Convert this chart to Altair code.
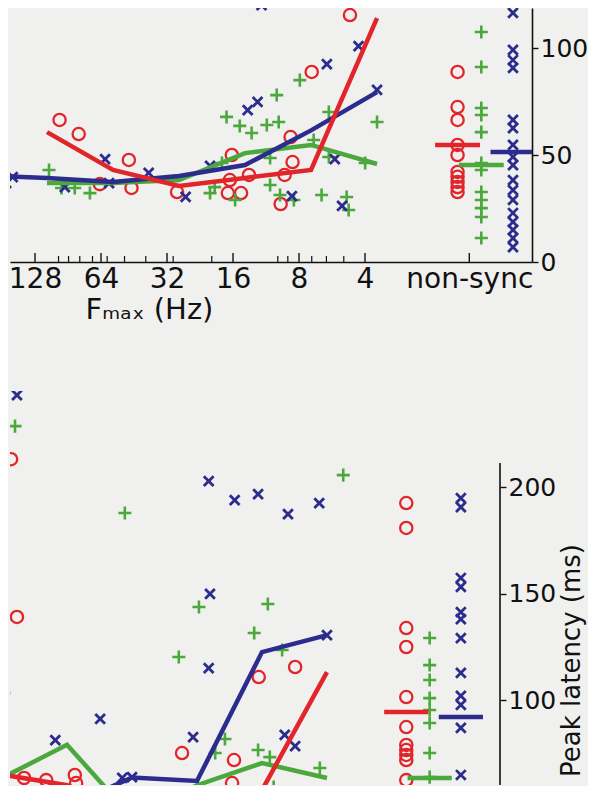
import math
import altair as alt
import pandas as pd

FONT = "DejaVu Sans"
RED, GREEN, BLUE = "#e1252a", "#4ba83d", "#2c2c8e"
BG = "#f0f0ee"
INK = "#111111"

# ---- x axis: Fmax on an octave (log2 Hz) position ----
FMAX_HZ = [4, 8, 16, 32, 64, 128]
MINOR_HZ = [5, 6, 7, 9, 10, 20, 30, 40, 50, 60, 70, 80, 90, 100, 200]
NONSYNC_POS = 0.42
NS_OFFSET = {"red": 0.36, "green": 0.0, "blue": -0.48}
NS_HALF = 0.34

# ---- top panel ----
TOP_LINE_HZ = [256, 128, 64, 32, 16, 8, 4]
TOP_LINE_RED = [None, 60.7, 43.0, 35.5, 39.3, 43.0, 114.0]
TOP_LINE_GREEN = [None, 36.9, 36.9, 38.3, 50.9, 54.7, 45.8]
TOP_LINE_BLUE = [40.5, 39.3, 37.4, 40.2, 45.3, 61.5, 79.4]
TOP_NS_MEAN = {"red": 54.7, "green": 45.3, "blue": 51.4}

TOP_RED_OCT = [6.81, 6.52, 5.76, 6.2, 5.72, 5.03, 4.2, 3.31, 3.28, 3.4, 4.26, 4.06, 3.46, 2.41, 2.99, 4.23, 3.94]
TOP_RED_LAT = [66.4, 59.8, 47.7, 36.4, 34.6, 32.7, 50.0, 58.4, 46.7, 40.7, 32.2, 32.2, 27.1, 115.4, 88.8, 38.3, 40.7]
TOP_BLUE_OCT = [3.75, 2.28, 2.76, 3.81, 3.96, 2.0, 2.64, 2.53, 3.29, 4.90, 6.12, 5.46, 6.73, 7.62, 7.52, 4.53, 6.06]
TOP_BLUE_LAT = [120.0, 100.9, 92.5, 74.8, 71.0, 80.4, 48.1, 26.2, 30.8, 30.4, 48.1, 41.6, 35.0, 36.9, 39.7, 44.9, 36.9]
TOP_GREEN_OCT = [3.17, 3.52, 4.28, 4.08, 3.90, 3.67, 3.49, 2.73, 2.0, 2.96, 2.18, 2.73, 3.62, 3.62, 3.47, 4.53, 4.46,
                 4.15, 3.26, 2.84, 2.46, 2.43, 4.35, 6.97, 6.78, 6.58, 6.35]
TOP_GREEN_LAT = [85.0, 78.0, 67.8, 63.6, 60.3, 64.0, 65.4, 70.1, 65.4, 57.0, 46.3, 49.1, 48.6, 36.0, 31.3, 32.2, 35.0,
                 29.0, 29.0, 31.3, 30.4, 24.3, 46.3, 43.0, 34.6, 34.6, 32.2]
TOP_NS_RED = [88.8, 72.4, 66.4, 54.7, 50.0, 42.1, 39.8, 37.4, 35.0, 32.7]
TOP_NS_GREEN = [107.5, 91.1, 72.0, 68.7, 60.7, 46.3, 43.0, 32.7, 29.0, 25.2, 21.0, 11.2]
TOP_NS_BLUE = [121.0, 116.4, 99.1, 94.4, 90.7, 66.4, 62.6, 54.7, 49.1, 45.3, 38.3, 33.6, 29.0, 22.9, 18.7, 15.0, 11.2, 7.0]

# ---- bottom panel (peak latency, ms) ----
BOT_LINE_HZ = [128, 64, 32, 16, 8, 4]
BOT_LINE_RED = [65.0, 60.0, 47.0, 50.0, 57.7, 113.1]
BOT_LINE_GREEN = [63.4, 79.0, 45.0, 60.0, 70.4, 63.4]
BOT_LINE_BLUE = [45.0, 50.0, 63.6, 62.0, 122.5, 130.5]
BOT_NS_MEAN = {"red": 94.4, "green": 63.4, "blue": 92.0}

BOT_RED_OCT = [6.86, 6.77, 4.23, 6.66, 6.32, 5.88, 5.86, 3.05, 2.49, 3.43, 3.46]
BOT_RED_LAT = [213.1, 139.0, 75.1, 63.4, 62.4, 64.8, 61.0, 110.8, 115.5, 71.8, 61.0]
BOT_BLUE_OCT = [6.77, 3.82, 3.42, 3.06, 2.6, 2.12, 3.8, 3.82, 5.49, 6.18, 4.06, 2.65, 2.49, 5.0, 5.15, 2.0]
BOT_BLUE_LAT = [243.2, 202.8, 193.9, 196.7, 187.3, 192.5, 149.8, 115.0, 91.1, 81.2, 82.6, 83.6, 78.4, 63.8, 63.4, 130.5]
BOT_GREEN_OCT = [6.8, 5.11, 1.75, 3.97, 2.91, 3.12, 4.28, 6.97, 2.69, 3.57, 3.72, 3.06, 2.88, 2.82, 2.11, 6.43]
BOT_GREEN_LAT = [228.6, 187.8, 205.6, 143.7, 145.1, 131.5, 120.2, 103.3, 123.5, 81.7, 75.1, 76.5, 73.2, 59.2, 68.1, 57.0]
BOT_NS_RED = [192.5, 180.8, 133.8, 124.9, 101.4, 87.3, 78.9, 76.5, 74.2, 71.8, 62.4]
BOT_NS_GREEN = [129.1, 116.4, 109.4, 100.9, 95.3, 89.2, 75.1, 63.8]
BOT_NS_BLUE = [194.8, 190.6, 157.3, 153.1, 141.3, 138.0, 129.1, 112.7, 101.9, 97.7, 86.9, 64.8]

SERIES = ["red", "green", "blue"]
COLORS = {"red": RED, "green": GREEN, "blue": BLUE}
PLUS = "M-1,0H1M0,-1V1"
CROSS = "M-1,-1L1,1M-1,1L1,-1"
STYLE = {
    "red": dict(shape="circle", size=150, strokeWidth=2.3),
    "green": dict(shape=PLUS, size=170, strokeWidth=2.6),
    "blue": dict(shape=CROSS, size=95, strokeWidth=2.8),
}


def line_df(hz, vals):
    rows = [{"oct": math.log2(h), "lat": v} for h, v in zip(hz, vals) if v is not None]
    return pd.DataFrame(rows)


def pts_df(octs, lats, ns_lats, series):
    pos = NONSYNC_POS + NS_OFFSET[series]
    o = list(octs) + [pos] * len(ns_lats)
    l = list(lats) + list(ns_lats)
    return pd.DataFrame({"oct": o, "lat": l})


def bars_df(means):
    rows = []
    for s in SERIES:
        c = NONSYNC_POS + NS_OFFSET[s]
        rows.append({"series": s, "x1": c - NS_HALF, "x2": c + NS_HALF, "lat": means[s]})
    return pd.DataFrame(rows)


def panel(W, H, xdom, ydom, lines, pts, means, xaxis, yaxis, extra=None):
    xs = alt.Scale(domain=xdom, reverse=True, nice=False, zero=False)
    ys = alt.Scale(domain=ydom, nice=False, zero=False)
    X = alt.X("oct:Q", scale=xs, axis=xaxis)
    Y = alt.Y("lat:Q", scale=ys, axis=yaxis)
    layers = []
    for s in SERIES:
        st = STYLE[s]
        layers.append(
            alt.Chart(pts[s]).mark_point(filled=False, color=COLORS[s], opacity=1, clip=True, **st)
            .encode(x=X, y=Y)
        )
    for s in ["green", "blue", "red"]:
        layers.append(
            alt.Chart(lines[s]).mark_line(color=COLORS[s], strokeWidth=4.5, clip=True)
            .encode(x=X, y=Y)
        )
    bars = bars_df(means)
    layers.append(
        alt.Chart(bars).mark_rule(strokeWidth=4.5, clip=True).encode(
            x=alt.X("x1:Q", scale=xs, axis=xaxis),
            x2="x2:Q",
            y=alt.Y("lat:Q", scale=ys, axis=yaxis),
            color=alt.Color("series:N", scale=alt.Scale(domain=SERIES, range=[RED, GREEN, BLUE]), legend=None),
        )
    )
    if extra:
        layers += extra(X, Y)
    return alt.layer(*layers).properties(width=W, height=H)


# ---- top panel ----
TW, TH = 522, 254
TXDOM = [-0.348, 7.561]
TYDOM = [0, 118.7]

top_x_axis = alt.Axis(
    values=[NONSYNC_POS] + [math.log2(h) for h in FMAX_HZ],
    labelExpr="datum.value < 1 ? 'non-sync' : format(pow(2, datum.value), 'd')",
    ticks=False, grid=False, domain=True, domainWidth=1.6,
    labelFontSize=28, labelPadding=3, labelOffset=-12, labelOverlap=False, labelFlush=False,
    title="Fₘₐₓ (Hz)", titleFontSize=29, titleFontWeight="normal", titleX=139, titlePadding=2,
)
top_y_axis = alt.Axis(
    orient="right", values=[0, 50, 100], grid=False, domain=True, domainWidth=1.6,
    tickSize=6, tickWidth=1.4, labelFontSize=25, labelPadding=2, title=None,
)

tick_major = pd.DataFrame({"oct": [NONSYNC_POS] + [math.log2(h) for h in FMAX_HZ]})
tick_minor = pd.DataFrame({"oct": [math.log2(h) for h in MINOR_HZ]})


def top_extra(X, Y):
    return [
        alt.Chart(tick_major).mark_rule(color=INK, strokeWidth=1.4, xOffset=-12, clip=True)
        .encode(x=X, y=alt.value(TH), y2=alt.value(TH - 9)),
        alt.Chart(tick_minor).mark_rule(color=INK, strokeWidth=1.2, xOffset=-12, clip=True)
        .encode(x=X, y=alt.value(TH), y2=alt.value(TH - 6)),
    ]


top = panel(
    TW, TH, TXDOM, TYDOM,
    {"red": line_df(TOP_LINE_HZ, TOP_LINE_RED), "green": line_df(TOP_LINE_HZ, TOP_LINE_GREEN),
     "blue": line_df(TOP_LINE_HZ, TOP_LINE_BLUE)},
    {"red": pts_df(TOP_RED_OCT, TOP_RED_LAT, TOP_NS_RED, "red"),
     "green": pts_df(TOP_GREEN_OCT, TOP_GREEN_LAT, TOP_NS_GREEN, "green"),
     "blue": pts_df(TOP_BLUE_OCT, TOP_BLUE_LAT, TOP_NS_BLUE, "blue")},
    TOP_NS_MEAN, top_x_axis, top_y_axis, extra=top_extra,
)

# ---- bottom panel ----
BW, BH = 490, 394
BXDOM = [-0.662, 6.877]
BYDOM = [60.1, 245.1]

bot_y_axis = alt.Axis(
    orient="right", values=[100, 150, 200], grid=False, domain=False,
    tickSize=6, tickWidth=1.4, labelFontSize=25, labelPadding=2,
    title="Peak latency (ms)", titleFontSize=26, titleFontWeight="normal",
    titleAngle=270, titleBaseline="top", titleY=269, titlePadding=3,
)
axis_top = pd.DataFrame({"lat": [211.3]})


def bot_extra(X, Y):
    return [
        alt.Chart(axis_top).mark_rule(color=INK, strokeWidth=1.6)
        .encode(x=alt.value(BW), y=Y, y2=alt.value(BH)),
    ]


bottom = panel(
    BW, BH, BXDOM, BYDOM,
    {"red": line_df(BOT_LINE_HZ, BOT_LINE_RED), "green": line_df(BOT_LINE_HZ, BOT_LINE_GREEN),
     "blue": line_df(BOT_LINE_HZ, BOT_LINE_BLUE)},
    {"red": pts_df(BOT_RED_OCT, BOT_RED_LAT, BOT_NS_RED, "red"),
     "green": pts_df(BOT_GREEN_OCT, BOT_GREEN_LAT, BOT_NS_GREEN, "green"),
     "blue": pts_df(BOT_BLUE_OCT, BOT_BLUE_LAT, BOT_NS_BLUE, "blue")},
    BOT_NS_MEAN, None, bot_y_axis, extra=bot_extra,
)

chart = (
    alt.vconcat(top, bottom, spacing=129, bounds="flush")
    .properties(padding=0, background=BG)
    .configure_view(stroke=None)
    .configure_axis(labelFont=FONT, titleFont=FONT, labelColor=INK, titleColor=INK,
                    domainColor=INK, tickColor=INK)
)

chart.save("out.html", embed_options={"renderer": "svg", "actions": False})
